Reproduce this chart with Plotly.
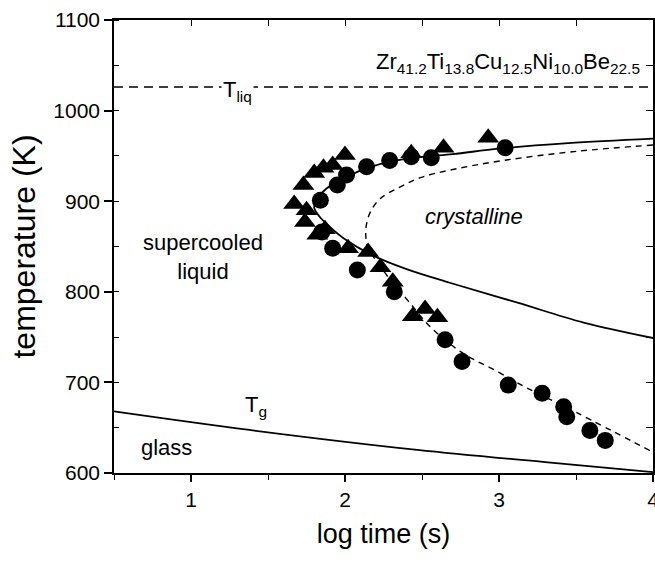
import plotly.graph_objects as go

# ---------------- data ----------------
circle_logt = [1.84, 1.95, 2.01, 2.14, 2.29, 2.43, 2.56, 3.04,
               1.85, 1.92, 2.08, 2.32, 2.65, 2.76, 3.06, 3.28, 3.42, 3.44, 3.59, 3.69]
circle_T = [901, 918, 929, 938, 945, 949, 948, 959,
            866, 848, 824, 800, 747, 723, 697, 688, 673, 662, 647, 636]

triangle_logt = [1.67, 1.75, 1.74, 1.82, 1.87, 1.73, 1.80, 1.86, 1.92, 2.00,
                 2.02, 2.15, 2.23, 2.31, 2.44, 2.52, 2.60, 2.43, 2.64, 2.93]
triangle_T = [897, 890, 877, 863, 869, 918, 931, 937, 940, 951,
              848, 844, 827, 811, 773, 781, 772, 953, 959, 970]

# solid nose (onset) curve
nose_logt = [4.0, 3.55, 3.12, 2.68, 2.4, 2.17, 2.0, 1.9, 1.83, 1.80,
             1.82, 1.88, 1.95, 2.05, 2.15, 2.3, 2.5, 2.7, 3.0, 3.45, 4.0]
nose_T = [749, 766, 788, 810, 825, 841, 858, 872, 884, 893,
          903, 914, 921, 930, 937, 944, 949, 952, 958, 964, 969]

# dashed crystalline boundary
cryst_logt = [4.0, 3.5, 3.03, 2.7, 2.49, 2.35, 2.23, 2.17, 2.14, 2.135, 2.15,
              2.2, 2.3, 2.41, 2.55, 2.75, 3.0, 3.18, 3.5, 4.0]
cryst_T = [962, 955, 945, 935, 926, 915, 903, 890, 875, 862, 848,
           835, 812, 790, 762, 734, 711, 694, 667, 623]

# glass transition line
tg_logt = [0.5, 1.38, 2.47, 3.3, 4.0]
tg_T = [668, 647.5, 625.5, 612, 601]

# liquidus
tliq_logt = [0.5, 4.0]
tliq_T = [1026, 1026]

x_ticks = [1, 2, 3, 4]
y_ticks = [600, 700, 800, 900, 1000, 1100]

FONT = "Liberation Sans, Arial, sans-serif"

fig = go.Figure()

fig.add_trace(go.Scatter(x=tliq_logt, y=tliq_T, mode="lines",
                         line=dict(color="black", width=1.6, dash="9px,6px"),
                         showlegend=False, hoverinfo="skip"))
fig.add_trace(go.Scatter(x=tg_logt, y=tg_T, mode="lines",
                         line=dict(color="black", width=1.8, shape="spline"),
                         showlegend=False, hoverinfo="skip"))
fig.add_trace(go.Scatter(x=nose_logt, y=nose_T, mode="lines",
                         line=dict(color="black", width=1.8, shape="spline", smoothing=1.0),
                         showlegend=False, hoverinfo="skip"))
fig.add_trace(go.Scatter(x=cryst_logt, y=cryst_T, mode="lines",
                         line=dict(color="black", width=1.4, dash="6px,5px",
                                   shape="spline", smoothing=1.0),
                         showlegend=False, hoverinfo="skip"))
fig.add_trace(go.Scatter(x=triangle_logt, y=triangle_T, mode="markers",
                         marker=dict(symbol="triangle-up", size=19, color="black"),
                         showlegend=False))
fig.add_trace(go.Scatter(x=circle_logt, y=circle_T, mode="markers",
                         marker=dict(symbol="circle", size=17, color="black"),
                         showlegend=False))
# dummy trace to activate the mirrored top/right axes
fig.add_trace(go.Scatter(x=[None], y=[None], xaxis="x2", yaxis="y2",
                         showlegend=False, hoverinfo="skip"))

def ann(text, x, y, size=22, italic=False, bg=None, **kw):
    fig.add_annotation(x=x, y=y, xref="x", yref="y", text=text, showarrow=False,
                       font=dict(family=FONT, size=size, color="black",
                                 style="italic" if italic else "normal"),
                       bgcolor=bg, **kw)

ann("Zr<sub>41.2</sub>Ti<sub>13.8</sub>Cu<sub>12.5</sub>Ni<sub>10.0</sub>Be<sub>22.5</sub>",
    3.06, 1052, size=22)
ann("T<sub>liq</sub>", 1.305, 1022, size=22, bg="white")
ann("T<sub>g</sub>", 1.42, 674, size=22)
ann("glass", 0.84, 628, size=22)
ann("supercooled<br>liquid", 1.08, 838, size=22)
ann("crystalline", 2.84, 883, size=22, italic=True)

axis_common = dict(showline=True, linecolor="black", linewidth=1.5,
                   showgrid=False, zeroline=False, tickcolor="black",
                   automargin=False,
                   tickfont=dict(family=FONT, size=21, color="black"))

fig.update_layout(
    width=655, height=565,
    margin=dict(l=114, r=2, t=20, b=92, autoexpand=False),
    plot_bgcolor="white", paper_bgcolor="white",
    xaxis=dict(range=[0.5, 4.0], tickvals=x_ticks, ticks="outside", ticklen=7,
               tickwidth=1.5, ticklabeloverflow="allow",
               minor=dict(dtick=0.5, tick0=0.5, ticks="outside", ticklen=5,
                          tickcolor="black", tickwidth=1.2),
               title=dict(text="log time (s)", standoff=14,
                          font=dict(family=FONT, size=27, color="black")),
               **axis_common),
    yaxis=dict(range=[600, 1100], tickvals=y_ticks, ticks="outside", ticklen=8,
               tickwidth=1.5, ticklabeloverflow="allow",
               minor=dict(dtick=50, tick0=600, ticks="inside", ticklen=5,
                          tickcolor="black", tickwidth=1.2),
               title=dict(text="temperature (K)", standoff=8,
                          font=dict(family=FONT, size=32, color="black")),
               **axis_common),
    xaxis2=dict(overlaying="x", side="top", anchor="y", matches="x",
                range=[0.5, 4.0], tickvals=[1, 1.5, 2, 2.5, 3, 3.5],
                ticks="inside", ticklen=6, tickwidth=1.2, showticklabels=False,
                showline=True, linecolor="black", linewidth=1.5, automargin=False,
                showgrid=False, zeroline=False, tickcolor="black"),
    yaxis2=dict(overlaying="y", side="right", anchor="x", matches="y",
                range=[600, 1100], tickvals=[650, 700, 750, 800, 850, 900, 950, 1000, 1050],
                ticks="inside", ticklen=7, tickwidth=1.2, showticklabels=False,
                showline=True, linecolor="black", linewidth=1.5, automargin=False,
                showgrid=False, zeroline=False, tickcolor="black"),
)

fig.write_html("out.html")
